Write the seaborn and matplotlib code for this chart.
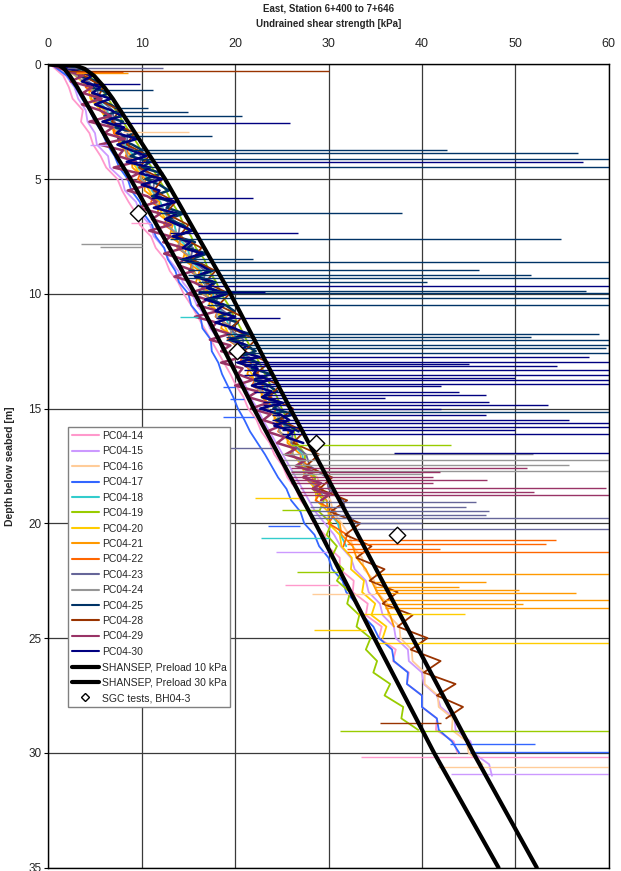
import numpy as np
import pandas as pd
import matplotlib
matplotlib.use("Agg")
import matplotlib.pyplot as plt
import seaborn as sns
from matplotlib.lines import Line2D

# ---------------- Data ----------------
# profiles are digitised every 0.5 m, the three densest ones every 0.25 m
pc04_14 = [0.2, 1.6, 2.2, 2.6, 3.7, 3.5, 4.4, 4.8, 5.6, 6.2, 7.4, 7.9, 8.6, 9.4, 9.8, 11.0, 11.5, 12.5, 13.0, 13.9,
           14.5, 15.3, 16.0, 16.7, 17.4, 18.1, 18.8, 19.5, 20.1, 20.9, 21.4, 22.3, 22.8, 23.7, 24.2, 25.1, 25.6, 26.5,
           27.0, 28.0, 28.4, 29.6, 29.9, 31.2, 31.2, 32.7, 32.6, 34.2, 34.0, 35.7, 35.4, 37.2, 36.9, 38.6, 38.4, 40.0,
           40.0, 41.6, 41.5, 43.4, 43.8]
pc04_15 = [0.5, 1.9, 2.8, 3.2, 4.0, 4.2, 5.0, 5.2, 6.4, 6.6, 7.9, 8.2, 9.4, 9.8, 10.9, 11.3, 12.4, 12.9, 13.9, 14.4,
           15.4, 15.9, 16.9, 17.3, 18.3, 18.7, 19.7, 20.2, 21.1, 21.6, 22.4, 23.0, 23.7, 24.4, 25.1, 25.8, 26.5, 27.2,
           27.9, 28.6, 29.6, 30.6, 31.3, 32.4, 32.8, 34.0, 34.3, 35.5, 35.8, 37.0, 37.2, 38.5, 38.6, 40.0, 40.2, 41.6,
           42.0, 43.5, 43.6, 45.2, 45.5, 47.2, 47.5]
pc04_16 = [0.9, 3.1, 4.4, 5.0, 6.1, 6.5, 7.6, 8.0, 9.1, 9.4, 10.6, 11.0, 12.0, 12.4, 13.5, 13.8, 15.0, 15.3, 16.4, 16.7,
           17.8, 18.1, 19.2, 19.6, 20.6, 21.0, 22.0, 22.4, 23.4, 23.8, 24.8, 25.0, 26.0, 26.4, 27.4, 27.6, 28.8, 29.2,
           30.2, 30.5, 31.4, 32.2, 32.6, 33.6, 33.8, 34.9, 35.2, 36.3, 36.4, 37.6, 37.7, 38.9, 39.0, 40.3, 40.3, 41.7,
           41.8, 43.3, 43.2, 44.8, 45.0, 46.5]
pc04_17 = [0.3, 2.0, 2.9, 3.6, 4.4, 5.0, 5.8, 6.3, 7.1, 7.6, 8.5, 8.9, 9.8, 10.2, 11.1, 11.5, 12.4, 12.8, 13.6, 14.0,
           15.0, 15.3, 16.3, 16.5, 17.4, 17.5, 18.2, 18.6, 19.2, 19.8, 20.3, 21.0, 21.6, 22.4, 23.2, 23.9, 24.6, 25.5,
           26.0, 27.0, 27.4, 28.5, 29.0, 30.0, 30.4, 31.5, 31.9, 33.0, 33.6, 34.8, 35.4, 36.8, 37.0, 38.5, 38.4, 40.0,
           40.0, 41.6, 41.8, 43.2, 44.0]
pc04_18 = [1.1, 3.7, 4.7, 5.2, 6.3, 6.7, 7.8, 8.2, 9.2, 9.6, 10.7, 11.1, 12.0, 12.5, 13.5, 13.8, 14.9, 15.2, 16.3, 16.6,
           17.6, 18.0, 19.0, 19.4, 20.3, 20.8, 21.7, 22.1, 23.1, 23.5, 24.4, 24.8, 25.8, 26.1, 27.2, 27.4, 28.5, 28.8,
           29.8, 30.0, 31.0, 31.3, 31.9]
pc04_19 = [2.0, 4.4, 5.6, 6.4, 7.2, 8.0, 8.8, 9.6, 10.2, 11.1, 11.8, 12.6, 13.2, 14.0, 14.5, 15.3, 15.8, 16.7, 17.2, 18.0,
           18.5, 19.3, 19.9, 20.6, 21.2, 21.9, 22.6, 23.2, 23.8, 24.5, 25.0, 25.6, 26.3, 26.6, 27.5, 27.4, 28.6, 28.3,
           29.5, 29.0, 30.3, 29.8, 30.9, 30.3, 31.6, 30.9, 32.3, 32.0, 33.3, 33.0, 34.5, 34.0, 35.2, 34.8, 36.6, 36.0,
           38.0, 37.8, 39.6]
pc04_20 = [1.2, 2.9, 4.3, 4.5, 5.6, 6.4, 7.1, 7.9, 8.5, 9.4, 10.0, 10.8, 11.5, 12.2, 12.9, 13.6, 14.2, 15.0, 15.6, 16.3,
           17.0, 17.6, 18.4, 19.0, 19.6, 20.4, 21.0, 21.8, 22.2, 23.1, 23.5, 24.5, 24.8, 25.9, 26.2, 27.2, 27.5, 28.6,
           28.7, 30.0, 30.0, 31.2, 31.4, 32.5, 32.4, 33.8, 33.6, 35.0, 34.6, 36.2, 35.8]
pc04_21 = [1.8, 3.5, 4.8, 4.6, 6.0, 6.1, 7.4, 7.6, 8.9, 9.0, 10.4, 10.3, 11.9, 11.7, 13.3, 13.0, 14.8, 14.4, 16.2, 15.8,
           17.5, 17.2, 18.9, 18.5, 20.3, 19.9, 21.7, 21.3, 23.0, 22.8, 24.3, 24.2, 25.7, 25.6, 27.0, 27.1, 28.3, 28.5,
           29.8, 30.0, 31.2, 31.4, 32.6, 33.0, 34.0, 34.6, 35.2, 36.0, 36.6, 37.0]
pc04_22 = [2.0, 4.2, 4.0, 5.6, 5.5, 7.1, 7.0, 8.7, 8.3, 10.1, 9.6, 11.6, 11.0, 12.9, 12.4, 14.3, 13.8, 15.6, 15.1, 17.0,
           16.5, 18.3, 17.9, 19.8, 19.2, 21.1, 20.5, 22.5, 21.8, 23.9, 23.2, 25.2, 24.6, 26.6, 25.9, 27.9, 27.3, 29.4,
           28.6, 30.8, 30.0, 32.0, 31.6]
pc04_23 = [0.6, 3.4, 5.2, 5.4, 6.9, 7.0, 8.5, 8.4, 9.9, 9.8, 11.4, 11.2, 12.8, 12.5, 14.1, 13.9, 15.5, 15.2, 16.8, 16.6,
           18.2, 17.9, 19.6, 19.3, 20.9, 20.6, 22.3, 22.0, 23.5, 23.3, 24.8, 24.6, 26.2, 26.0, 27.6, 28.0, 29.8, 30.0,
           31.6, 31.8, 33.0]
pc04_24 = [1.0, 3.0, 4.6, 4.9, 6.2, 6.3, 7.8, 8.1, 8.5, 9.9, 9.9, 11.4, 11.3, 12.9, 12.6, 14.2, 13.9, 15.6, 15.3, 16.8,
           16.6, 18.3, 18.0, 19.6, 19.4, 21.0, 20.8, 22.4, 22.0, 23.7, 23.4, 25.0, 24.7, 26.4, 26.1, 27.6, 27.5, 28.9]
pc04_25 = [0.8, 3.9, 3.3, 5.3, 4.6, 6.5, 5.0, 6.6, 7.8, 6.0, 8.0, 7.2, 9.3, 7.5, 9.0, 10.1, 8.8, 10.9, 10.0, 12.2,
           10.4, 11.9, 12.9, 11.1, 13.3, 12.7, 14.5, 12.8, 14.4, 15.3, 13.7, 15.7, 14.9, 17.0, 15.2, 16.6, 17.6, 15.9,
           17.9, 17.2, 19.2, 17.4, 19.0, 19.9, 18.3, 20.3, 19.5, 21.6, 19.8, 21.2, 22.2, 20.5, 22.5, 21.8, 23.8, 22.0,
           23.6, 24.5, 22.9, 24.9, 24.1, 26.2, 24.4, 25.8, 26.8]
pc04_28 = [1.5, 3.8, 5.9, 5.2, 7.6, 6.8, 9.2, 8.4, 10.8, 9.7, 12.2, 11.3, 13.6, 12.6, 15.0, 14.0, 16.4, 15.4, 17.9,
           16.8, 19.4, 18.2, 20.8, 19.6, 22.2, 21.0, 23.6, 22.2, 24.8, 23.6, 26.2, 24.8, 27.4, 26.2, 29.0, 27.6, 30.4,
           29.0, 32.0, 30.2, 33.4, 31.8, 34.6, 33.0, 36.0, 34.4, 37.4, 35.8, 39.0, 37.4, 40.6, 38.8, 42.0, 40.2, 43.6,
           41.6, 44.4, 42.6]
pc04_29 = [0.2, 1.7, 3.7, 2.4, 4.7, 3.7, 5.7, 3.6, 5.5, 6.7, 4.4, 6.9, 6.0, 8.2, 5.5, 8.0, 7.5, 9.4, 7.0, 9.7,
           8.4, 10.8, 8.5, 10.6, 11.6, 9.6, 12.0, 11.1, 13.1, 10.8, 13.1, 12.3, 14.5, 12.4, 14.5, 13.9, 15.6, 13.5,
           15.6, 16.8, 14.9, 17.0, 16.0, 18.2, 15.7, 18.0, 17.5, 19.4, 17.3, 19.5, 18.5, 20.8, 18.5, 20.8, 20.3, 21.9,
           20.0, 22.4, 21.4, 23.5, 21.7, 23.8, 23.0, 24.9, 23.4, 25.3, 24.5, 26.5, 25.4, 27.5, 26.5, 28.4, 27.3, 29.2,
           28.3, 30.1, 29.2]
pc04_30 = [0.4, 2.7, 4.7, 3.6, 5.6, 4.7, 6.7, 5.0, 6.7, 7.9, 5.8, 8.1, 7.3, 9.5, 7.4, 8.9, 10.5, 8.4, 10.9, 9.8,
           12.2, 10.0, 11.9, 11.5, 13.6, 11.3, 13.8, 12.5, 13.9, 15.4, 13.3, 15.2, 14.4, 16.5, 14.4, 16.3, 17.3, 15.7,
           17.7, 17.0, 19.1, 16.8, 18.8, 17.9, 20.0, 17.9, 19.9, 21.2, 19.4, 21.3, 20.4, 22.6, 20.3, 22.4, 22.0, 23.7,
           21.8, 23.9, 22.9, 25.1, 22.7, 24.8, 25.8, 24.2, 26.2, 25.5, 27.3]

# horizontal excursions: (depth, from, to); 65 means off the chart
spikes_14 = [(6.9, 11, 8.9), (22.7, 31, 25.3), (30.18, 33.5, 65)]
spikes_15 = [(3.5, 6.5, 4.5), (21.25, 30, 24.4), (30.94, 43.1, 65)]
spikes_16 = [(2.94, 8, 15.1), (23.06, 35, 28.2), (30.62, 41.7, 65)]
spikes_17 = [(14.05, 20, 18.7), (14.6, 21, 19.5), (15.36, 22, 18.7), (20.13, 27, 23.5), (29.6, 43, 52.1),
             (29.97, 45.1, 65)]
spikes_18 = [(11.0, 16, 14.1), (20.66, 30, 22.8)]
spikes_19 = [(16.57, 26, 43.1), (19.43, 29, 25), (22.12, 31, 26.6), (29.06, 31.2, 65)]
spikes_20 = [(18.88, 27, 22.1), (23.93, 33, 44.6), (24.63, 34, 28.5), (25.21, 35, 65)]
spikes_21 = [(0.4, 3, 8.5), (22.19, 35, 65), (22.55, 35, 46.9), (22.77, 35, 44), (22.92, 35, 50.4), (23.03, 35, 56.5),
             (23.32, 36, 65), (23.5, 36, 50.8), (23.71, 36, 65)]
spikes_22 = [(0.35, 3, 8), (20.74, 32, 54.4), (20.91, 32, 53.3), (21.1, 32, 41.9), (21.27, 32, 65)]
spikes_23 = [(0.15, 2, 12.3), (16.7, 24, 15), (19.07, 28, 45.8), (19.29, 28, 44.7), (19.47, 28, 47.2),
             (19.65, 28, 46.9), (19.75, 28, 65), (20.0, 33, 40), (20.23, 33, 65)]
spikes_24 = [(7.85, 10, 3.5), (7.95, 10, 5.5), (16.96, 25, 51.9), (17.25, 25, 65), (17.47, 25, 55.8),
             (17.72, 26, 65), (17.85, 26, 40)]
spikes_25 = [(1.12, 5, 11.2), (1.92, 7, 10.7), (2.07, 7, 15.0), (2.24, 7, 20.7), (3.13, 9, 17.5), (3.74, 9, 42.7),
             (3.88, 10, 56.7), (4.14, 10, 65), (4.49, 10, 65), (6.5, 12, 37.9), (7.63, 13, 54.9), (8.49, 14, 21.9),
             (8.6, 14, 65), (8.97, 15, 46.1), (9.16, 15, 51.7), (9.33, 15, 65), (9.5, 16, 40.5), (9.87, 16, 57.6),
             (9.98, 16, 65), (10.2, 17, 65), (10.5, 17, 65), (11.73, 19, 59), (11.87, 19, 51.7), (12.02, 19, 65),
             (12.24, 20, 65), (12.38, 20, 59.7), (12.6, 20, 65), (15.14, 24, 65)]
spikes_28 = [(0.28, 2, 30), (28.7, 42, 35.5)]
spikes_29 = [(17.61, 26, 51.2), (17.76, 26, 41.9), (17.98, 26, 41.2), (18.1, 26, 47), (18.24, 26, 41.2),
             (18.48, 27, 59.7), (18.62, 27, 52), (18.75, 27, 65)]
spikes_30 = [(0.87, 4, 9.8), (2.57, 7, 25.9), (4.24, 9, 57.2), (5.84, 11, 21.9), (7.37, 13, 26.7), (9.66, 16, 65),
             (9.94, 16, 23.2), (11.05, 18, 24.8), (12.75, 20, 57.9), (12.96, 20, 65), (13.05, 21, 45),
             (13.15, 21, 54.5), (13.33, 21, 65), (13.54, 21, 65), (13.65, 22, 50), (13.76, 22, 65), (13.94, 22, 65),
             (14.0, 22, 42), (14.27, 22, 44), (14.42, 23, 46.9), (14.55, 23, 36), (14.71, 23, 47.2),
             (14.86, 23, 53.5), (15.0, 24, 42), (15.29, 24, 46.9), (15.5, 24, 55.8), (15.65, 24, 65),
             (15.8, 25, 65), (15.95, 25, 50), (16.1, 25, 65), (16.95, 37, 65)]

probes = ["PC04-14", "PC04-15", "PC04-16", "PC04-17", "PC04-18", "PC04-19", "PC04-20", "PC04-21",
          "PC04-22", "PC04-23", "PC04-24", "PC04-25", "PC04-28", "PC04-29", "PC04-30"]
profiles = [pc04_14, pc04_15, pc04_16, pc04_17, pc04_18, pc04_19, pc04_20, pc04_21,
            pc04_22, pc04_23, pc04_24, pc04_25, pc04_28, pc04_29, pc04_30]
steps = [0.5, 0.5, 0.5, 0.5, 0.5, 0.5, 0.5, 0.5, 0.5, 0.5, 0.5, 0.25, 0.5, 0.25, 0.25]
spikes = [spikes_14, spikes_15, spikes_16, spikes_17, spikes_18, spikes_19, spikes_20, spikes_21,
          spikes_22, spikes_23, spikes_24, spikes_25, spikes_28, spikes_29, spikes_30]
colors = ["#FF99CC", "#CC99FF", "#FFCC99", "#3366FF", "#33CCCC", "#99CC00", "#FFCC00", "#FF9900",
          "#FF6600", "#666699", "#969696", "#003366", "#993300", "#993366", "#000080"]

shansep_depth = [0, 0.05, 0.2, 0.5, 1, 1.5, 2, 3, 4, 5, 7.5, 10, 12.5, 15, 17.5, 20, 25, 30, 35]
preload_10 = [0, 1.2, 1.7, 2.3, 3.1, 3.8, 4.5, 5.9, 7.3, 8.8, 12.3, 15.7, 18.9, 22.0, 25.3, 28.6, 34.9, 41.3, 48.2]
preload_30 = [0, 2.9, 3.9, 4.9, 6.0, 6.9, 7.7, 9.3, 10.9, 12.5, 16.0, 19.5, 22.7, 25.9, 29.2, 32.5, 39.0, 45.5, 52.3]

sgc_depth = [6.5, 12.5, 16.5, 20.5]
sgc_su = [9.6, 20.2, 28.7, 37.3]

# ---------------- Build tables ----------------
frames = []
for name, vals, step in zip(probes, profiles, steps):
    frames.append(pd.DataFrame({"probe": name, "depth": np.arange(len(vals)) * step, "su": vals}))
cpt = pd.concat(frames, ignore_index=True)

shansep = pd.concat([
    pd.DataFrame({"curve": "SHANSEP, Preload 10 kPa", "depth": shansep_depth, "su": preload_10}),
    pd.DataFrame({"curve": "SHANSEP, Preload 30 kPa", "depth": shansep_depth, "su": preload_30}),
], ignore_index=True)
sgc = pd.DataFrame({"depth": sgc_depth, "su": sgc_su})

# ---------------- Plot ----------------
sns.set_theme(style="white")
plt.rcParams["font.family"] = ["Liberation Sans", "DejaVu Sans"]

fig = plt.figure(figsize=(6.21, 8.71), dpi=100)
ax = fig.add_axes([0.0778, 0.0039, 0.9024, 0.9223])

# draw probes one by one so the later ones sit on top, like in the original
for name, col, step in zip(probes, colors, steps):
    lw = 1.8 if step < 0.5 else 1.3
    sns.lineplot(data=cpt[cpt["probe"] == name], x="su", y="depth", color=col, sort=False,
                 estimator=None, orient="y", lw=lw, legend=False, ax=ax, zorder=2)

for col, sp in zip(colors, spikes):
    d = [s[0] for s in sp]
    a = [s[1] for s in sp]
    b = [s[2] for s in sp]
    ax.hlines(d, a, b, colors=col, lw=1.0, zorder=2)

sns.lineplot(data=shansep, x="su", y="depth", units="curve", estimator=None, sort=False, orient="y",
             color="black", lw=3.0, legend=False, ax=ax, zorder=4)
sns.scatterplot(data=sgc, x="su", y="depth", marker="D", s=70, color="white", edgecolor="black",
                linewidth=1.0, ax=ax, zorder=5)

ax.set_xlim(0, 60)
ax.set_ylim(35, 0)
ax.set_xticks(range(0, 61, 10))
ax.set_yticks(range(0, 36, 5))
ax.xaxis.tick_top()
ax.tick_params(axis="x", length=0, pad=10, labelsize=9)
ax.tick_params(axis="y", left=True, length=3, width=0.8, pad=2, labelsize=8.5, color="black")
ax.set_xlabel("")
ax.set_ylabel("")
ax.grid(True, color="#3a3a3a", lw=0.9)
ax.set_axisbelow(True)
for s in ax.spines.values():
    s.set_color("black")
    s.set_linewidth(1.0)

fig.text(0.529, 0.9897, "East, Station 6+400 to 7+646", ha="center", va="center", fontsize=7, fontweight="bold")
fig.text(0.529, 0.9724, "Undrained shear strength [kPa]", ha="center", va="center", fontsize=7, fontweight="bold")
fig.text(0.016, 0.465, "Depth below seabed [m]", rotation=90, ha="center", va="center", fontsize=7.5,
         fontweight="bold")

handles = [Line2D([], [], color=c, lw=1.5) for c in colors]
labels = list(probes)
handles += [Line2D([], [], color="black", lw=3.0), Line2D([], [], color="black", lw=3.0),
            Line2D([], [], ls="none", marker="D", markersize=4, markerfacecolor="white",
                   markeredgecolor="black", markeredgewidth=1.0)]
labels += ["SHANSEP, Preload 10 kPa", "SHANSEP, Preload 30 kPa", "SGC tests, BH04-3"]
leg = ax.legend(handles, labels, loc="upper left", bbox_to_anchor=(0.035, 0.548), borderaxespad=0,
                fontsize=7.5, frameon=True, fancybox=False, framealpha=1, edgecolor="#808080",
                handlelength=2.6, handletextpad=0.3, labelspacing=0.52, borderpad=0.35)
leg.get_frame().set_linewidth(1.0)
leg.set_zorder(10)

fig.savefig("out.png", dpi=100)
